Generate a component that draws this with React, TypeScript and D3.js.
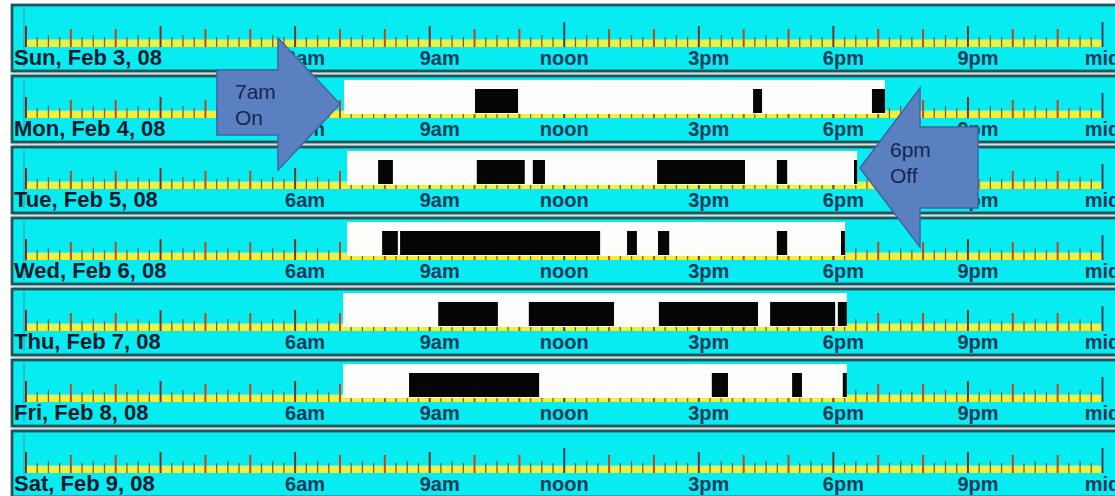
import React from "react";
import * as d3 from "d3";

// ---------- data ----------
const days = [
  "Sun, Feb 3, 08",
  "Mon, Feb 4, 08",
  "Tue, Feb 5, 08",
  "Wed, Feb 6, 08",
  "Thu, Feb 7, 08",
  "Fri, Feb 8, 08",
  "Sat, Feb 9, 08",
];
// "on" period per day, in hours (null = none)
const onStart: (number | null)[] = [null, 7.09, 7.16, 7.16, 7.07, 7.07, null];
const onEnd: (number | null)[] = [null, 19.15, 18.53, 18.26, 18.3, 18.3, null];
// black event blocks per day, [startHour, endHour]
const sunBars: [number, number][] = [];
const monBars: [number, number][] = [[10.01, 10.97], [16.21, 16.41], [18.86, 19.15]];
const tueBars: [number, number][] = [[7.85, 8.18], [10.05, 11.12], [11.3, 11.57], [14.07, 16.03], [16.74, 16.97], [18.46, 18.53]];
const wedBars: [number, number][] = [[7.94, 8.29], [8.34, 12.8], [13.4, 13.62], [14.09, 14.34], [16.74, 16.97], [18.17, 18.26]];
const thuBars: [number, number][] = [[9.19, 10.52], [11.21, 13.11], [14.11, 16.32], [16.59, 18.04], [18.1, 18.3]];
const friBars: [number, number][] = [[8.54, 11.44], [15.29, 15.65], [17.08, 17.3], [18.21, 18.3]];
const satBars: [number, number][] = [];
const barsByDay = [sunBars, monBars, tueBars, wedBars, thuBars, friBars, satBars];

const labelHours = [6, 9, 12, 15, 18, 21, 24];
const labelTexts = ["6am", "9am", "noon", "3pm", "6pm", "9pm", "mid"];

const arrowOnText = ["7am", "On"];
const arrowOffText = ["6pm", "Off"];

// ---------- layout ----------
const W = 1115;
const H = 496;
const FONT = "'Liberation Sans', Arial, sans-serif";

export default function App() {
  const x = d3.scaleLinear().domain([0, 24]).range([26, 1102.5]);
  const y = d3
    .scaleBand<string>()
    .domain(days)
    .range([5, 5 + 71 * 7 - 5])
    .paddingInner(5 / 71)
    .paddingOuter(0);
  const bh = y.bandwidth();

  const quarterTicks = d3.range(0, 24 * 4 + 1).map((i) => i / 4);

  const bandTop = 36;
  const bandBot = 42;

  const tickTop = (h: number) => {
    if (h === 12 || h === 24) return 17;
    if (Number.isInteger(h) && h % 3 === 0) return 21;
    if (Number.isInteger(h)) return 24;
    if (h % 0.5 === 0) return 30;
    return 32;
  };
  const tickColor = (h: number) => {
    if (h === 12 || h === 24) return "#34405e";
    if (Number.isInteger(h) && h % 3 === 0) return "#7a3028";
    if (Number.isInteger(h)) return "#c0481a";
    return "#8e5a28";
  };

  // arrow annotation geometry
  const a1Tip = x(7);
  const arrowOn = [
    [a1Tip - 123, 70],
    [a1Tip - 62, 70],
    [a1Tip - 62, 38],
    [a1Tip, 104],
    [a1Tip - 62, 170],
    [a1Tip - 62, 135],
    [a1Tip - 123, 135],
  ];
  const a2Tip = 860;
  const arrowOff = [
    [a2Tip + 118, 127],
    [a2Tip + 60, 127],
    [a2Tip + 60, 88],
    [a2Tip, 168],
    [a2Tip + 60, 247],
    [a2Tip + 60, 208],
    [a2Tip + 118, 208],
  ];
  const pts = (p: number[][]) => p.map((q) => q.join(",")).join(" ");

  return (
    <div style={{ position: "absolute", left: 0, top: 0, width: W, height: H, overflow: "hidden", background: "#fff" }}>
      <svg width={W} height={H} viewBox={`0 0 ${W} ${H}`} style={{ display: "block", fontFamily: FONT }}>
        <rect x={0} y={0} width={W} height={H} fill="#ffffff" />
        {days.map((day, i) => {
          const top = y(day)!;
          const on0 = onStart[i];
          const on1 = onEnd[i];
          return (
            <g key={day} transform={`translate(0,${top})`}>
              {/* light gap stripe under the panel */}
              <rect x={12} y={bh} width={W} height={5} fill="#d3e2e2" />
              {/* panel */}
              <rect x={12} y={0} width={W + 20} height={bh} fill="#06ecf0" stroke="#22545a" strokeWidth={2.8} />
              {/* yellow base band */}
              <rect x={x(0)} y={bandTop - 1.5} width={x(24) - x(0)} height={2} fill="#c4f490" />
              <rect x={x(0)} y={bandTop} width={x(24) - x(0)} height={bandBot - bandTop} fill="#f0f236" />
              {/* left start line */}
              <line x1={x(0) - 2} x2={x(0) - 2} y1={3} y2={bh - 4} stroke="#4f8c94" strokeWidth={1} />
              {/* ticks */}
              {quarterTicks.map((h) => (
                <line
                  key={h}
                  x1={x(h)}
                  x2={x(h)}
                  y1={tickTop(h)}
                  y2={bandBot}
                  stroke={tickColor(h)}
                  strokeWidth={Number.isInteger(h) ? 2 : 1.3}
                />
              ))}
              {/* on period */}
              {on0 !== null && on1 !== null && (
                <rect x={x(on0)} y={4} width={x(on1) - x(on0)} height={bandTop + 2 - 4} fill="#fdfdfb" />
              )}
              {/* black blocks */}
              {barsByDay[i].map(([s, e], j) => (
                <rect key={j} x={x(s)} y={13} width={Math.max(2.5, x(e) - x(s))} height={24} fill="#050505" />
              ))}
              {/* day label */}
              <text x={14} y={60} fontSize={22} fontWeight="bold" fill="#0d1a2e">
                {day}
              </text>
              {/* hour labels */}
              {labelHours.map((h, k) => {
                const t = labelTexts[k];
                const shift = /[ap]m$/.test(t) ? 10 : 0;
                return (
                  <text key={t} x={x(h) + shift} y={60} fontSize={20} fontWeight="bold" fill="#123a5a" textAnchor="middle">
                    {t}
                  </text>
                );
              })}
            </g>
          );
        })}

        {/* annotation arrows */}
        <polygon points={pts(arrowOn)} fill="#5a80c2" stroke="#3f65a2" strokeWidth={1.5} />
        <text fontSize={21} fill="#18264c">
          <tspan x={235} y={99}>{arrowOnText[0]}</tspan>
          <tspan x={235} y={125}>{arrowOnText[1]}</tspan>
        </text>
        <polygon points={pts(arrowOff)} fill="#5a80c2" stroke="#3f65a2" strokeWidth={1.5} />
        <text fontSize={21} fill="#18264c">
          <tspan x={890} y={157}>{arrowOffText[0]}</tspan>
          <tspan x={890} y={183}>{arrowOffText[1]}</tspan>
        </text>
      </svg>
    </div>
  );
}
